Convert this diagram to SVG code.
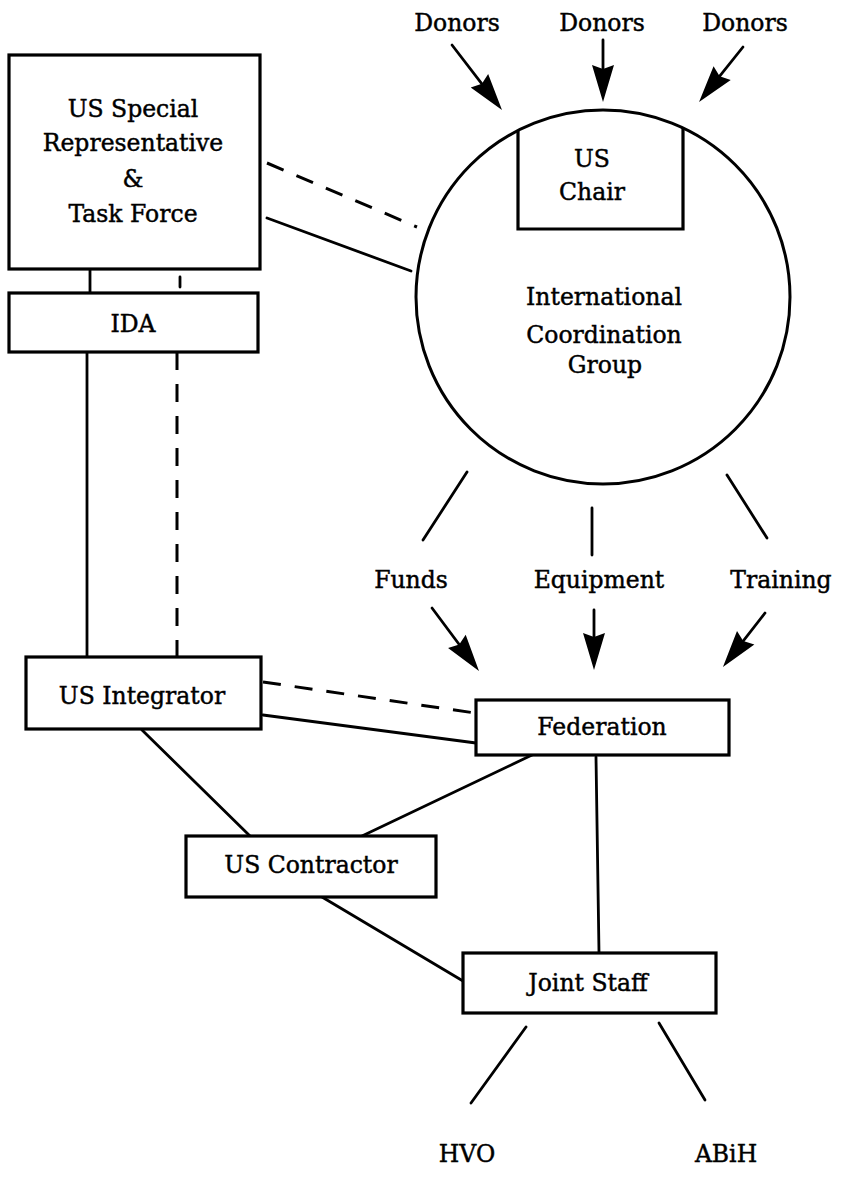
<svg xmlns="http://www.w3.org/2000/svg" width="844" height="1188" viewBox="0 0 844 1188">
<defs>
<style>
.box{fill:#fff;stroke:#000;stroke-width:3.2}
.ln{fill:none;stroke:#000;stroke-width:2.8;stroke-linecap:round}
.dash{fill:none;stroke:#000;stroke-width:3;stroke-dasharray:18 14}
.t{font-family:"DejaVu Serif","Liberation Serif",serif;font-size:23.5px;fill:#000;stroke:#000;stroke-width:0.45;text-anchor:middle}
</style>
<marker id="ah" viewBox="-28 -12 40 24" refX="0" refY="0" markerWidth="40" markerHeight="24" markerUnits="userSpaceOnUse" orient="auto">
<path d="M10,0 L-27,-11 L-23,0 L-27,11 Z" fill="#000"/>
</marker>
</defs>
<rect width="844" height="1188" fill="#fff"/>

<g id="connectors">
<line class="ln" x1="90" y1="269" x2="90" y2="293"/>
<line class="ln" x1="180" y1="277" x2="180" y2="287"/>
<line class="ln" x1="87" y1="352" x2="87" y2="657"/>
<line class="dash" x1="177" y1="352" x2="177" y2="657"/>
<line class="dash" x1="267" y1="163" x2="417" y2="227"/>
<line class="ln" x1="267" y1="218" x2="411" y2="271"/>
<line class="ln" x1="452" y1="45" x2="495.9" y2="102.1" marker-end="url(#ah)"/>
<line class="ln" x1="603" y1="40" x2="603" y2="92" marker-end="url(#ah)"/>
<line class="ln" x1="743" y1="47" x2="705.3" y2="94.2" marker-end="url(#ah)"/>
<line class="ln" x1="467" y1="472" x2="423" y2="540"/>
<line class="ln" x1="592" y1="508" x2="592" y2="555"/>
<line class="ln" x1="727" y1="475" x2="767" y2="538"/>
<line class="ln" x1="432" y1="608" x2="473" y2="663" marker-end="url(#ah)"/>
<line class="ln" x1="594" y1="610" x2="594" y2="660" marker-end="url(#ah)"/>
<line class="ln" x1="765" y1="613" x2="729.1" y2="659.1" marker-end="url(#ah)"/>
<line class="dash" x1="263" y1="682" x2="475" y2="713"/>
<line class="ln" x1="263" y1="715" x2="476" y2="743"/>
<line class="ln" x1="142" y1="730" x2="250" y2="836"/>
<line class="ln" x1="532" y1="755" x2="362" y2="836"/>
<line class="ln" x1="596" y1="757" x2="599" y2="953"/>
<line class="ln" x1="322" y1="897" x2="463" y2="981"/>
<line class="ln" x1="526" y1="1027" x2="471" y2="1103"/>
<line class="ln" x1="659" y1="1023" x2="705" y2="1100"/>
</g>

<g id="special-rep">
<rect class="box" x="9" y="55" width="251" height="214"/>
<text class="t" x="133" y="117">US Special</text>
<text class="t" x="133" y="151">Representative</text>
<text class="t" x="133" y="187">&amp;</text>
<text class="t" x="133" y="222">Task Force</text>
</g>

<g id="ida">
<rect class="box" x="9" y="293" width="249" height="59"/>
<text class="t" x="133" y="332">IDA</text>
</g>

<g id="icg">
<circle cx="603" cy="297" r="187" fill="none" stroke="#000" stroke-width="3"/>
<text class="t" x="604" y="305">International</text>
<text class="t" x="604" y="343">Coordination</text>
<text class="t" x="605" y="373">Group</text>
</g>

<g id="us-chair">
<path d="M518,131 V229 H683 V128" fill="none" stroke="#000" stroke-width="3.2"/>
<text class="t" x="592" y="167">US</text>
<text class="t" x="592" y="200">Chair</text>
</g>

<g id="donors">
<text class="t" x="457" y="31">Donors</text>
<text class="t" x="602" y="31">Donors</text>
<text class="t" x="745" y="31">Donors</text>
</g>

<g id="flows">
<text class="t" x="411" y="588">Funds</text>
<text class="t" x="599" y="588">Equipment</text>
<text class="t" x="781" y="588">Training</text>
</g>

<g id="us-integrator">
<rect class="box" x="26" y="657" width="235" height="72"/>
<text class="t" x="142" y="704">US Integrator</text>
</g>

<g id="federation">
<rect class="box" x="476" y="700" width="253" height="55"/>
<text class="t" x="602" y="735">Federation</text>
</g>

<g id="us-contractor">
<rect class="box" x="186" y="836" width="250" height="61"/>
<text class="t" x="311" y="873">US Contractor</text>
</g>

<g id="joint-staff">
<rect class="box" x="463" y="953" width="253" height="60"/>
<text class="t" x="588" y="991">Joint Staff</text>
</g>

<g id="hvo">
<text class="t" x="467" y="1162">HVO</text>
</g>

<g id="abih">
<text class="t" x="726" y="1162">ABiH</text>
</g>
</svg>
